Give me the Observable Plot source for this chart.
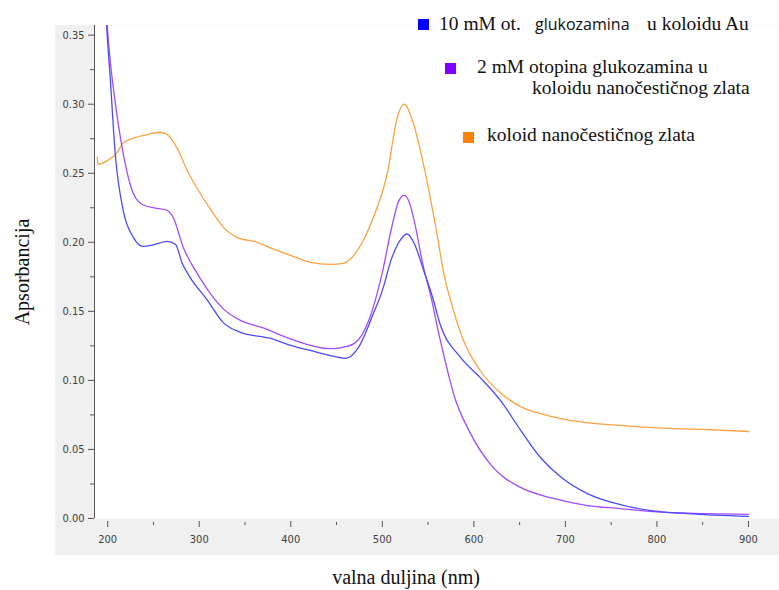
<!DOCTYPE html>
<html><head><meta charset="utf-8">
<script src="https://cdn.jsdelivr.net/npm/d3@7"></script>
<script src="https://cdn.jsdelivr.net/npm/@observablehq/plot@0.6"></script>
<style>
body{margin:0;background:#fff;}
#wrap{position:relative;width:779px;height:590px;overflow:hidden;}
#bg{position:absolute;left:55px;top:25px;width:724px;height:530px;background:#f0f0f0;}
#chart{position:absolute;left:0;top:0;}
.t{position:absolute;white-space:nowrap;font-family:"Liberation Serif","Times New Roman",serif;font-size:19.5px;line-height:1;color:#111;}
.s{position:absolute;white-space:nowrap;font-family:"Open Sans",sans-serif;font-size:16px;line-height:1;color:#111;}
.sq{position:absolute;width:11px;height:11px;}
</style></head><body>
<div id="wrap">
  <div id="bg"></div>
  <div id="chart"></div>
  <div class="sq" style="left:418px;top:19px;background:#0000ff"></div>
  <div class="t" style="left:439px;top:13.7px">10 mM ot.</div>
  <div class="s" style="left:535px;top:15.8px">glukozamina</div>
  <div class="t" style="left:647px;top:13.7px">u koloidu Au</div>
  <div class="sq" style="left:445px;top:63px;background:#7f00ff"></div>
  <div class="t" style="left:477px;top:56.7px">2 mM otopina glukozamina u</div>
  <div class="t" style="left:532px;top:77.7px">koloidu nanočestičnog zlata</div>
  <div class="sq" style="left:463px;top:132px;background:#ff8000"></div>
  <div class="t" style="left:487px;top:124.7px">koloid nanočestičnog zlata</div>
  <div class="t" style="left:22px;top:272px;font-size:20px;transform:translate(-50%,-50%) rotate(-90deg)">Apsorbancija</div>
  <div class="t" style="left:406px;top:567.3px;font-size:20px;transform:translateX(-50%)">valna duljina (nm)</div>
</div>
<script>
// 10 mM otopina glukozamina u koloidu Au
const blueNm  = [198, 199, 202.7, 208.2, 217, 228, 239, 249, 265, 274, 281.4, 290, 309, 326, 345, 378, 400, 421, 443, 460, 475, 490, 500, 510, 520, 527, 535, 545, 555, 563, 585, 607, 629, 651, 673, 695, 724, 760, 796, 833, 900];
const blueAbs = [0.37, 0.356, 0.320, 0.2645, 0.223, 0.2036, 0.197, 0.198, 0.2007, 0.1986, 0.1848, 0.1746, 0.158, 0.142, 0.1348, 0.1304, 0.1254, 0.1217, 0.118, 0.116, 0.125, 0.148, 0.165, 0.188, 0.202, 0.206, 0.199, 0.180, 0.160, 0.141, 0.117, 0.102, 0.0855, 0.064, 0.044, 0.030, 0.018, 0.010, 0.0055, 0.0035, 0.0015];
// 2 mM otopina glukozamina u koloidu nanočestičnog zlata
const purpleNm  = [198, 199.5, 203, 206.5, 210.4, 216.9, 227.9, 238.8, 254, 265, 271.6, 282.5, 297.8, 312, 326, 345, 370, 400, 443, 457, 470, 485, 500, 510, 518, 524, 530, 534, 545, 553, 563, 572, 578, 596, 621, 651, 687, 724, 760, 796, 851, 900];
const purpleAbs = [0.37, 0.356, 0.330, 0.310, 0.291, 0.2645, 0.2355, 0.227, 0.2246, 0.2232, 0.218, 0.1964, 0.1775, 0.163, 0.152, 0.1435, 0.138, 0.130, 0.123, 0.124, 0.127, 0.143, 0.178, 0.210, 0.230, 0.234, 0.228, 0.218, 0.182, 0.161, 0.130, 0.105, 0.090, 0.062, 0.037, 0.0225, 0.0145, 0.0094, 0.0072, 0.005, 0.0036, 0.003];
// koloid nanočestičnog zlata
const orangeNm  = [188.5, 189.6, 193, 199.5, 210.4, 217, 228, 243, 257.4, 266, 276, 286.9, 301, 315.3, 326.2, 341.5, 363.4, 377.6, 399.5, 421.3, 443.2, 457.4, 479.3, 490.2, 505.5, 516.4, 524, 533.9, 544.8, 560, 567, 575, 588, 607, 629, 651, 680, 705, 760, 800, 850, 900];
const orangeAbs = [0.2616, 0.2565, 0.257, 0.259, 0.265, 0.272, 0.2754, 0.278, 0.2797, 0.2775, 0.268, 0.252, 0.2355, 0.221, 0.211, 0.2036, 0.200, 0.196, 0.1906, 0.1855, 0.184, 0.1848, 0.2015, 0.218, 0.25, 0.2906, 0.300, 0.286, 0.257, 0.205, 0.178, 0.157, 0.130, 0.107, 0.091, 0.081, 0.0746, 0.071, 0.0674, 0.0656, 0.0645, 0.063];

const xTicks = [200, 300, 400, 500, 600, 700, 800, 900];
const xMinorTicks = [250, 350, 450, 550, 650, 750, 850];
const yTicks = [0, 0.05, 0.10, 0.15, 0.20, 0.25, 0.30, 0.35];
const yMinorTicks = [0.025, 0.075, 0.125, 0.175, 0.225, 0.275, 0.325];
const xDomain = [185.6, 933.9];
const yDomain = [0, 0.357];

const toRows = (xs, ys) => xs.map((x, i) => ({nm: x, a: ys[i]}));
const blue = toRows(blueNm, blueAbs);
const purple = toRows(purpleNm, purpleAbs);
const orange = toRows(orangeNm, orangeAbs);

const chart = Plot.plot({
  width: 779, height: 590,
  marginLeft: 94, marginRight: 0, marginTop: 25, marginBottom: 72,
  style: {background: "transparent", fontFamily: "'Liberation Sans Narrow','DejaVu Sans Condensed',sans-serif", fontSize: "11px", color: "#404040"},
  x: {domain: xDomain},
  y: {domain: yDomain},
  marks: [
    Plot.frame({fill: "white", stroke: null}),
    Plot.line(orange, {x: "nm", y: "a", stroke: "#ffa040", strokeWidth: 1.3, curve: "monotone-x", clip: true}),
    Plot.line(purple, {x: "nm", y: "a", stroke: "#a24bff", strokeWidth: 1.3, curve: "monotone-x", clip: true}),
    Plot.line(blue, {x: "nm", y: "a", stroke: "#4a4aff", strokeWidth: 1.3, curve: "monotone-x", clip: true}),
    Plot.ruleX([xDomain[0]], {stroke: "#555"}),
    Plot.axisY({ticks: yTicks, tickFormat: d3.format(".2f"), tickSize: 6, tickPadding: 4, label: null, stroke: "#555"}),
    Plot.axisY({ticks: yMinorTicks, tickFormat: () => "", tickSize: 4, label: null, stroke: "#555"}),
    Plot.axisX({ticks: xTicks, tickSize: 6, tickPadding: 8, dy: 3, label: null, stroke: "#555"}),
    Plot.axisX({ticks: xMinorTicks, tickFormat: () => "", tickSize: 3, dy: 4, label: null, stroke: "#555"})
  ]
});
document.getElementById("chart").appendChild(chart);
</script>
</body></html>
